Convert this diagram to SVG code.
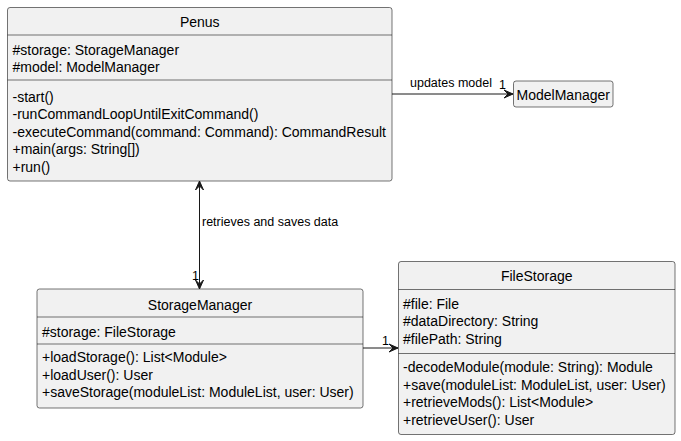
<svg xmlns="http://www.w3.org/2000/svg" width="681" height="441" viewBox="0 0 681 441">
<style>
.box{fill:#F1F1F1;stroke:#181818;stroke-width:0.6}
.sep{stroke:#181818;stroke-width:0.6}
.t{font-family:"Liberation Sans",Arial,sans-serif;font-size:14px;fill:#000}
.c{text-anchor:middle}
.lbl{font-family:"Liberation Sans",Arial,sans-serif;font-size:12.5px;fill:#000}
.edge{stroke:#181818;stroke-width:1;fill:none}
.ah{fill:#181818;stroke:#181818;stroke-width:1}
</style>
<defs>
<marker id="arr" viewBox="-10 -5 11 10" refX="0" refY="0" markerWidth="11" markerHeight="10" markerUnits="userSpaceOnUse" orient="auto-start-reverse">
<polygon class="ah" points="0,0 -9,-4 -5,0 -9,4"/>
</marker>
</defs>
<rect width="681" height="441" fill="#FFFFFF"/>

<g id="connectors">
<g id="penus-modelmanager">
<line class="edge" x1="392" y1="94" x2="513" y2="94" marker-end="url(#arr)"/>
<text class="lbl" x="410" y="87">updates model</text>
<text class="lbl" x="499" y="89">1</text>
</g>
<g id="penus-storagemanager">
<line class="edge" x1="199.5" y1="181" x2="199.5" y2="289" marker-start="url(#arr)" marker-end="url(#arr)"/>
<text class="lbl" x="202" y="226">retrieves and saves data</text>
<text class="lbl" x="192" y="280">1</text>
</g>
<g id="storagemanager-filestorage">
<line class="edge" x1="363" y1="348" x2="398" y2="348" marker-end="url(#arr)"/>
<text class="lbl" x="382" y="345">1</text>
</g>
</g>

<g id="Penus">
<rect class="box" x="7.5" y="7.5" width="384.5" height="173.5" rx="2.5"/>
<line class="sep" x1="7.5" y1="35" x2="392" y2="35"/>
<line class="sep" x1="7.5" y1="80" x2="392" y2="80"/>
<text class="t c" x="199.75" y="26.5">Penus</text>
<text class="t" x="12.5" y="54.5">#storage: StorageManager</text>
<text class="t" x="12.5" y="72">#model: ModelManager</text>
<text class="t" x="12.5" y="101.5">-start()</text>
<text class="t" x="12.5" y="119">-runCommandLoopUntilExitCommand()</text>
<text class="t" x="12.5" y="136.5">-executeCommand(command: Command): CommandResult</text>
<text class="t" x="12.5" y="154">+main(args: String[])</text>
<text class="t" x="12.5" y="171.5">+run()</text>
</g>

<g id="ModelManager">
<rect class="box" x="513.5" y="81" width="99.5" height="26" rx="2.5"/>
<text class="t c" x="563.25" y="99.5">ModelManager</text>
</g>

<g id="StorageManager">
<rect class="box" x="37" y="289" width="326" height="119" rx="2.5"/>
<line class="sep" x1="37" y1="317" x2="363" y2="317"/>
<line class="sep" x1="37" y1="344" x2="363" y2="344"/>
<text class="t c" x="200" y="309.5">StorageManager</text>
<text class="t" x="42" y="337">#storage: FileStorage</text>
<text class="t" x="42" y="362">+loadStorage(): List&lt;Module&gt;</text>
<text class="t" x="42" y="379.5">+loadUser(): User</text>
<text class="t" x="42" y="397">+saveStorage(moduleList: ModuleList, user: User)</text>
</g>

<g id="FileStorage">
<rect class="box" x="398.5" y="261.5" width="276.5" height="173" rx="2.5"/>
<line class="sep" x1="398.5" y1="289.5" x2="675" y2="289.5"/>
<line class="sep" x1="398.5" y1="353.5" x2="675" y2="353.5"/>
<text class="t c" x="536.75" y="281">FileStorage</text>
<text class="t" x="403" y="308.5">#file: File</text>
<text class="t" x="403" y="326">#dataDirectory: String</text>
<text class="t" x="403" y="343.5">#filePath: String</text>
<text class="t" x="403" y="372">-decodeModule(module: String): Module</text>
<text class="t" x="403" y="389.5">+save(moduleList: ModuleList, user: User)</text>
<text class="t" x="403" y="407">+retrieveMods(): List&lt;Module&gt;</text>
<text class="t" x="403" y="424.5">+retrieveUser(): User</text>
</g>
</svg>
